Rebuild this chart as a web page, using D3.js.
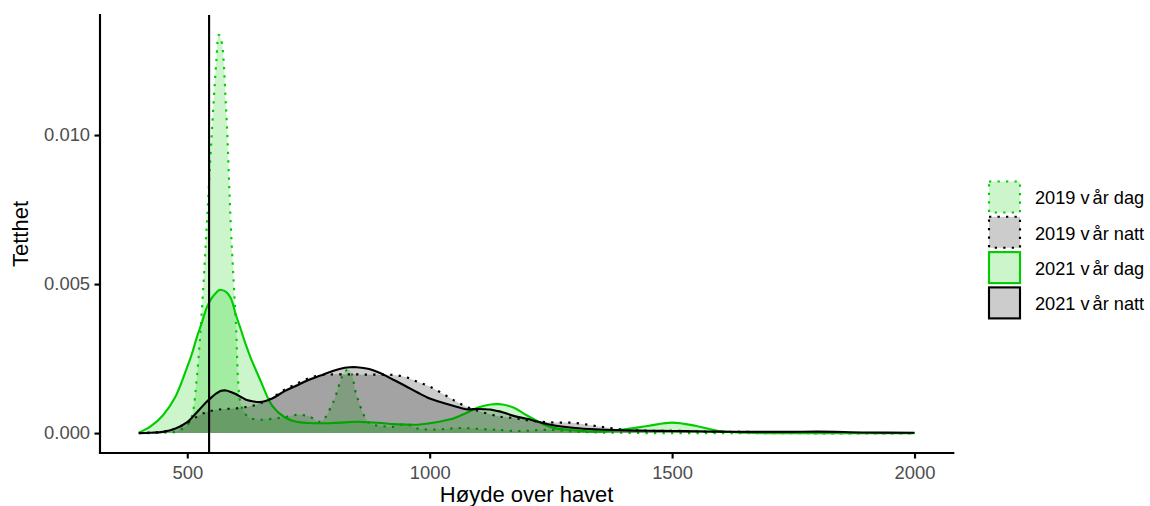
<!DOCTYPE html>
<html>
<head>
<meta charset="utf-8">
<script src="https://cdn.jsdelivr.net/npm/d3@7"></script>
<style>
  html, body { margin: 0; padding: 0; background: #fff; }
  svg { display: block; font-family: "Liberation Sans", Arial, sans-serif; }
</style>
</head>
<body>
<svg id="chart" width="1150" height="506"></svg>
<script>
// ---- data (density estimates) ----
const heights = [400,425,450,475,500,510,520,530,540,550,560,565,570,580,590,600,610,620,630,650,675,700,725,750,775,800,825,835,850,875,900,925,950,975,1000,1025,1050,1075,1100,1125,1140,1150,1175,1200,1250,1300,1350,1400,1450,1500,1550,1600,1650,1700,1750,1800,1900,2000];

const dag2019 = [0,0,0.00001,0.00004,0.00027,0.0006,0.0019,0.0041,0.0069,0.0099,0.0125,0.01336,0.0132,0.0109,0.0069,0.0038,0.0010,0.00064,0.0005,0.00045,0.00048,0.00053,0.00061,0.00057,0.00038,0.0010,0.00206,0.00211,0.00122,0.00034,0.00024,0.00021,0.0003,0.00015,0.00012,0.00013,0.00016,0.00017,0.00014,0.00012,0.00011,0.0001,0.00007,0.00008,0.00011,0.00005,0.00002,0.00001,0,0,0,0,0,0,0,0,0,0];

const natt2019 = [0.00001,0.00002,0.00005,0.00015,0.00035,0.00045,0.00055,0.00064,0.00071,0.00075,0.00078,0.00079,0.0008,0.00081,0.00082,0.00083,0.00085,0.00087,0.0009,0.00099,0.00119,0.00145,0.00165,0.00184,0.00194,0.00197,0.00197,0.00197,0.00197,0.00196,0.00196,0.00195,0.00188,0.00172,0.00156,0.00134,0.0011,0.00089,0.00074,0.00063,0.00057,0.00054,0.0005,0.00043,0.00036,0.00034,0.00022,0.00012,0.00008,0.00008,0.00006,0.00004,0.00004,0.00003,0.00001,0,0,0];

const dag2021 = [0.00001,0.00023,0.0006,0.0012,0.00222,0.00268,0.00323,0.0037,0.0042,0.00452,0.00472,0.00479,0.0048,0.00474,0.00452,0.00398,0.0035,0.003,0.00256,0.0018,0.00092,0.00054,0.00038,0.00034,0.00033,0.00034,0.00036,0.00037,0.00038,0.00036,0.00034,0.0003,0.00029,0.00028,0.00033,0.0004,0.0005,0.00067,0.00086,0.00096,0.00097,0.00096,0.00084,0.0006,0.0002,0.00009,0.00005,0.00012,0.00024,0.00035,0.00024,0.00006,0.00001,0,0,0,0,0];

const natt2021 = [0,0.00001,0.00004,0.00015,0.00037,0.00052,0.0007,0.00088,0.00105,0.0012,0.00133,0.00138,0.00142,0.00143,0.00138,0.00131,0.00122,0.00113,0.00108,0.00104,0.00116,0.0014,0.00159,0.00178,0.00193,0.00208,0.00219,0.00221,0.00221,0.00215,0.002,0.00179,0.00158,0.00136,0.00116,0.00103,0.00091,0.0008,0.00081,0.00079,0.00074,0.0007,0.00057,0.00048,0.00028,0.00017,0.00012,0.00009,0.00008,0.00007,0.00006,0.00005,0.00004,0.00004,0.00004,0.00005,0.00002,0.00001];

const seriesNames = ["2019 vår dag", "2019 vår natt", "2021 vår dag", "2021 vår natt"];
const seriesValues = [dag2019, natt2019, dag2021, natt2021];
const xTicks = [500, 1000, 1500, 2000];
const yTicks = [0, 0.005, 0.010];
const vlineAt = 545;
const xTitle = "Høyde over havet";
const yTitle = "Tetthet";

// ---- styles ----
const GREEN = "#00CD00";
const lineColors = [GREEN, "#000000", GREEN, "#000000"];
const fillColors = [GREEN, "#000000", GREEN, "#000000"];
const dashes = ["2.3,6.2", "2.3,6.2", null, null];
const LW = 2.13;
const FONT = "'Liberation Sans', Arial, sans-serif";

const svg = d3.select("#chart");
const panel = {left: 100, right: 953.3, top: 15, bottom: 453};

const xMin = d3.min(heights), xMax = d3.max(heights);
const xPad = (xMax - xMin) * 0.05;
const x = d3.scaleLinear().domain([xMin - xPad, xMax + xPad]).range([panel.left, panel.right]);
const yMaxV = d3.max(seriesValues.flat());
const y = d3.scaleLinear().domain([-0.05 * yMaxV, 1.05 * yMaxV]).range([panel.bottom, panel.top]);

const curve = d3.curveCatmullRom.alpha(0.5);
const area = d3.area().x(d => x(d[0])).y0(y(0)).y1(d => Math.min(y(d[1]), y(0))).curve(curve);
const line = d3.line().x(d => x(d[0])).y(d => y(d[1])).curve(curve);

const g = svg.append("g");
seriesValues.forEach((vals, i) => {
  const pts = heights.map((h, j) => [h, vals[j]]);
  g.append("path").attr("d", area(pts))
    .attr("fill", fillColors[i]).attr("fill-opacity", 0.2).attr("stroke", "none");
  g.append("path").attr("d", line(pts))
    .attr("fill", "none").attr("stroke", lineColors[i]).attr("stroke-width", LW)
    .attr("stroke-dasharray", dashes[i]).attr("stroke-linejoin", "round");
});

// vertical reference line
svg.append("line")
  .attr("x1", x(vlineAt)).attr("x2", x(vlineAt))
  .attr("y1", panel.top).attr("y2", panel.bottom)
  .attr("stroke", "#000").attr("stroke-width", 2.13);

// axes
const xAxis = d3.axisBottom(x).tickValues(xTicks).tickSize(5.5).tickPadding(7).tickFormat(d3.format("d"));
const yAxis = d3.axisLeft(y).tickValues(yTicks).tickSize(5.5).tickPadding(4.4).tickFormat(d3.format(".3f"));

const gx = svg.append("g").attr("transform", `translate(0,${panel.bottom})`).call(xAxis);
const gy = svg.append("g").attr("transform", `translate(${panel.left},0)`).call(yAxis);
[gx, gy].forEach(a => {
  a.select(".domain").remove();
  a.selectAll(".tick line").attr("stroke", "#000").attr("stroke-width", LW);
  a.selectAll(".tick text").attr("fill", "#4D4D4D")
    .style("font-size", "18.4px").style("font-family", FONT);
});

svg.append("line").attr("x1", panel.left).attr("x2", panel.right)
  .attr("y1", panel.bottom).attr("y2", panel.bottom)
  .attr("stroke", "#000").attr("stroke-width", LW).attr("stroke-linecap", "square");
svg.append("line").attr("x1", panel.left).attr("x2", panel.left)
  .attr("y1", panel.top).attr("y2", panel.bottom)
  .attr("stroke", "#000").attr("stroke-width", LW).attr("stroke-linecap", "square");

// titles
svg.append("text").attr("x", (panel.left + panel.right) / 2).attr("y", 502)
  .attr("text-anchor", "middle").style("font-size", "22px").attr("fill", "#000").text(xTitle);
svg.append("text").attr("transform", `translate(28,${(panel.top + panel.bottom) / 2}) rotate(-90)`)
  .attr("text-anchor", "middle").style("font-size", "22px").attr("fill", "#000").text(yTitle);

// legend
const legend = svg.append("g");
const keyX = 987.5, keyY0 = 180, keyStep = 35.3, keySize = 34;
seriesNames.forEach((name, i) => {
  const ky = keyY0 + i * keyStep;
  legend.append("rect").attr("x", keyX).attr("y", ky).attr("width", keySize).attr("height", keySize).attr("fill", "#fff");
  legend.append("rect")
    .attr("x", keyX + 1.5).attr("y", ky + 1.5).attr("width", keySize - 3).attr("height", keySize - 3)
    .attr("fill", fillColors[i]).attr("fill-opacity", 0.2)
    .attr("stroke", lineColors[i]).attr("stroke-width", LW)
    .attr("stroke-dasharray", dashes[i]);
  const t = legend.append("text").attr("x", 1035).attr("y", ky + keySize / 2 + 7.3)
    .style("font-size", "18.2px").attr("fill", "#000");
  const parts = name.split(" v");
  t.append("tspan").text(parts[0] + " v");
  t.append("tspan").attr("dx", 3).text(parts[1]);
});
</script>
</body>
</html>
